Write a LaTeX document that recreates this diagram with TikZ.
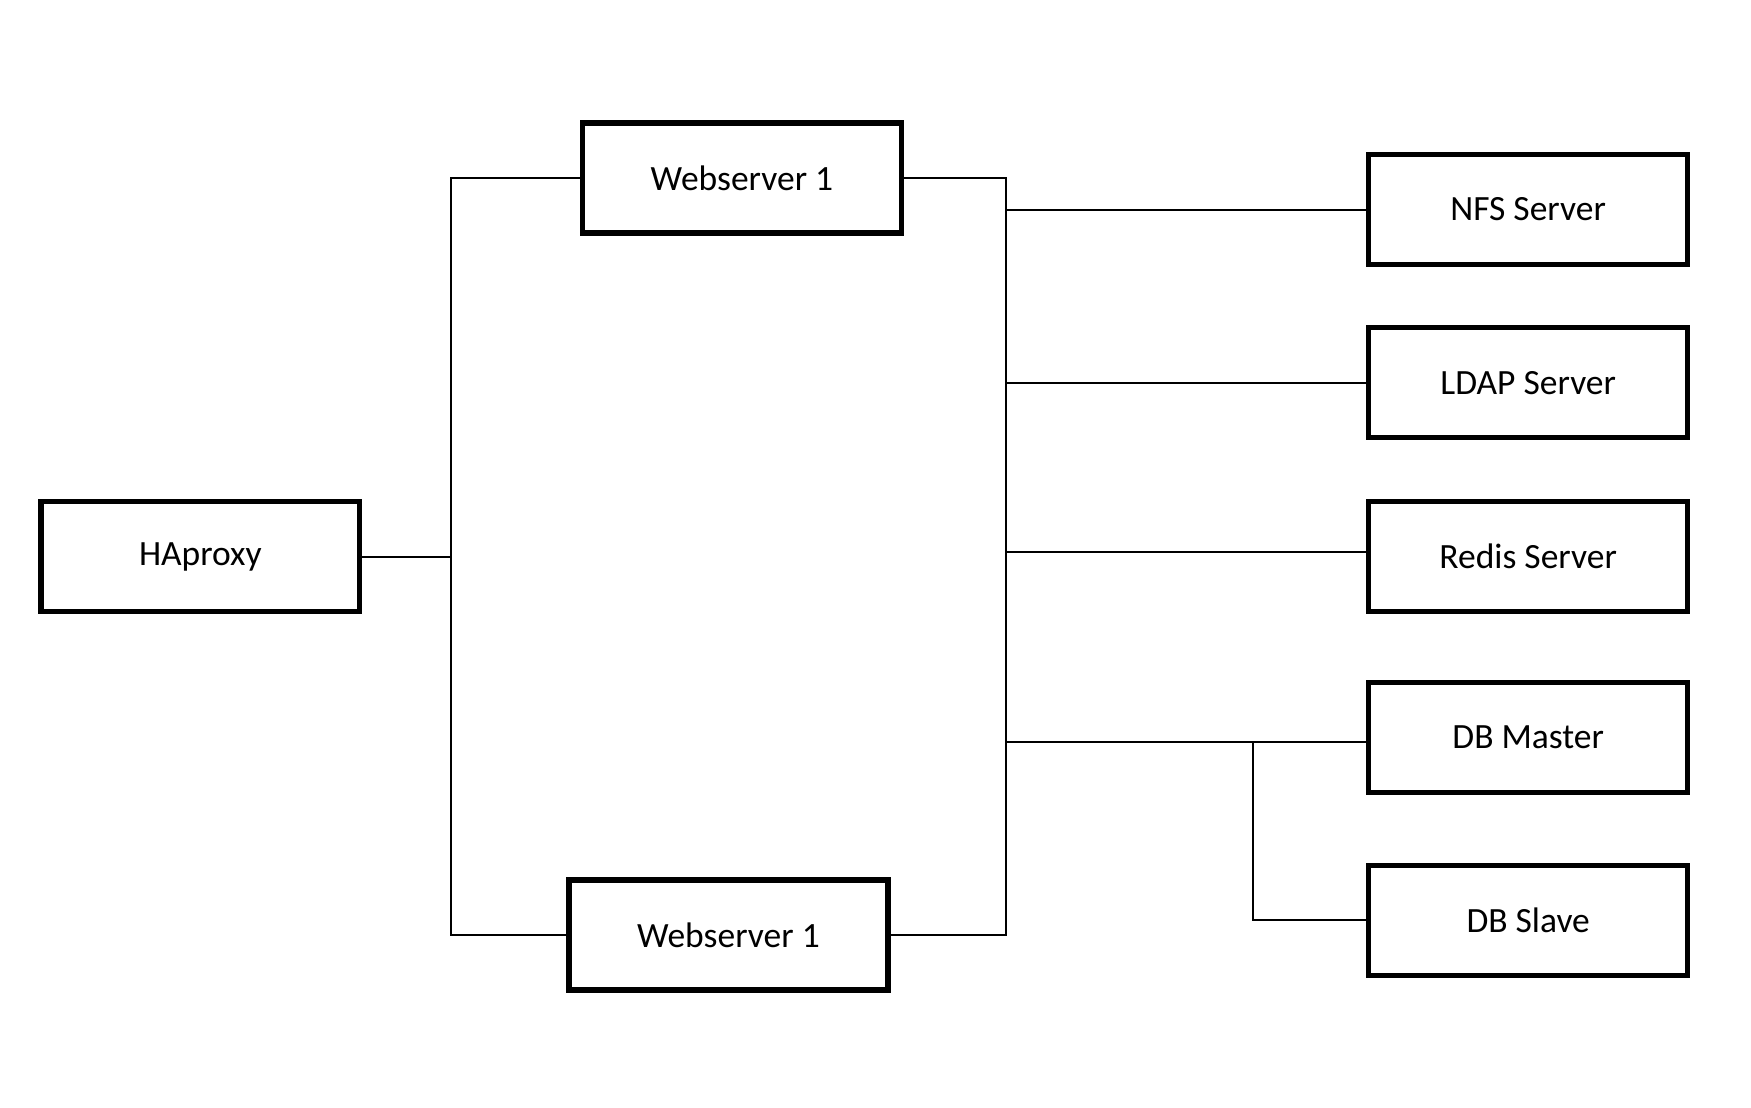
\documentclass[tikz,border=0pt]{standalone}
\usepackage{fontspec}
\setmainfont{Carlito}
\tikzset{server/.style={draw, line width=1.35pt, minimum width=28.4mm, minimum height=9.8mm, inner sep=0pt, font=\fontsize{9}{11}\selectfont},
         wire/.style={line width=0.5pt}}
\begin{document}
\begin{tikzpicture}[x=0.1mm,y=-0.1mm]
    \useasboundingbox[fill=white] (0,0) rectangle (1560,987);

    % boxes
    \node[server] (hap) at (178.5,496) {HAproxy};
    \node[server] (web1) at (661,158.5) {Webserver 1};
    \node[server] (web2) at (649,833) {Webserver 1};

    \node[server] (nfs) at (1361.5,186.5) {NFS Server};
    \node[server] (ldap) at (1361.5,341) {LDAP Server};
    \node[server] (redis) at (1361.5,496) {Redis Server};
    \node[server] (dbm) at (1361.5,657) {DB Master};
    \node[server] (dbs) at (1361.5,820) {DB Slave};

    % left bus
    \coordinate (lt) at (402,158.5);
    \coordinate (lb) at (402,833);
    \coordinate (lm) at (402,496);
    \draw[wire] (hap.east) -- (lm);
    \draw[wire] (web1.west) -- (lt) -- (lb) -- (web2.west);

    % right bus
    \coordinate (rt) at (896,158.5);
    \coordinate (rb) at (896,833);
    \draw[wire] (web1.east) -- (rt) -- (rb) -- (web2.east);

    \coordinate (r1) at (896,187);
    \coordinate (r2) at (896,341);
    \coordinate (r3) at (896,492);
    \coordinate (r4) at (896,661);
    \draw[wire] (r1) -- (r1 -| nfs.west);
    \draw[wire] (r2) -- (r2 -| ldap.west);
    \draw[wire] (r3) -- (r3 -| redis.west);
    \draw[wire] (r4) -- (r4 -| dbm.west);

    % master to slave
    \coordinate (j) at (1116,661);
    \draw[wire] (j) |- (dbs.west);

\end{tikzpicture}
\end{document}
